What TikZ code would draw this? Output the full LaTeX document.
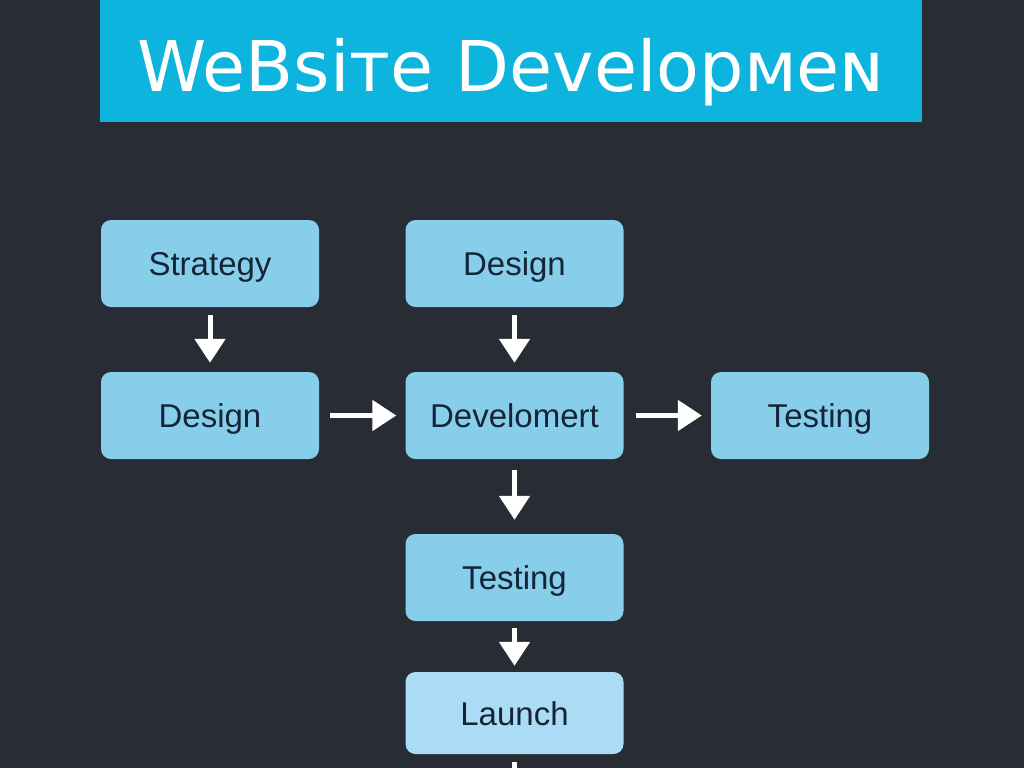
\documentclass[tikz,border=0pt]{standalone}
\usepackage{fontspec}
\setmainfont{Liberation Sans}
\newfontfamily\titlefont{DejaVu Sans}
\usetikzlibrary{arrows.meta}
\definecolor{bgdark}{RGB}{40,44,52}
\definecolor{titlebar}{RGB}{12,180,222}
\definecolor{boxfill}{RGB}{135,206,235}
\definecolor{boxlight}{RGB}{170,221,245}
\definecolor{boxtext}{RGB}{22,36,56}
\tikzstyle{bx}=[rectangle,rounded corners=10pt,fill=boxfill,text=boxtext,minimum width=218pt,minimum height=87pt,inner sep=0pt,text height=24pt,text depth=0pt,font=\fontsize{33}{36}\selectfont]
\tikzstyle{arr}=[draw=white,line width=5pt,-{Triangle[width=30pt,length=24pt]},shorten <=8pt,shorten >=9pt]

\begin{document}
\begin{tikzpicture}[x=1pt,y=-1pt]
\fill[bgdark] (0,0) rectangle (1024,768);
\useasboundingbox (0,0) rectangle (1024,768);
\fill[titlebar] (100,0) rectangle (922,122);
\node[text=white,font=\titlefont\fontsize{70}{74}\selectfont,text height=51pt,text depth=0pt] (title) at (511,66) {WeBsiтe Developмeɴ};
\node[bx] (strat) at (210,263.5) {Strategy};
\node[bx] (desA) at (514.5,263.5) {Design};
\node[bx] (desB) at (210,415.5) {Design};
\node[bx] (devel) at (514.5,415.5) {Develomert};
\node[bx] (testA) at (820,415.5) {Testing};
\node[bx] (testB) at (514.5,577.5) {Testing};
\node[bx,fill=boxlight,minimum height=82pt] (launch) at (514.5,713) {Launch};
\coordinate (out) at (514.5,830);
\draw[arr] (strat) -- (desB);
\draw[arr] (desA) -- (devel);
\draw[arr,shorten <=11pt] (desB) -- (devel);
\draw[arr,shorten <=12pt] (devel) -- (testA);
\draw[arr,shorten <=11pt,shorten >=14pt] (devel) -- (testB);
\draw[arr,shorten <=7pt,shorten >=6pt] (testB) -- (launch);
\draw[arr] (launch) -- (out);
\end{tikzpicture}
\end{document}
